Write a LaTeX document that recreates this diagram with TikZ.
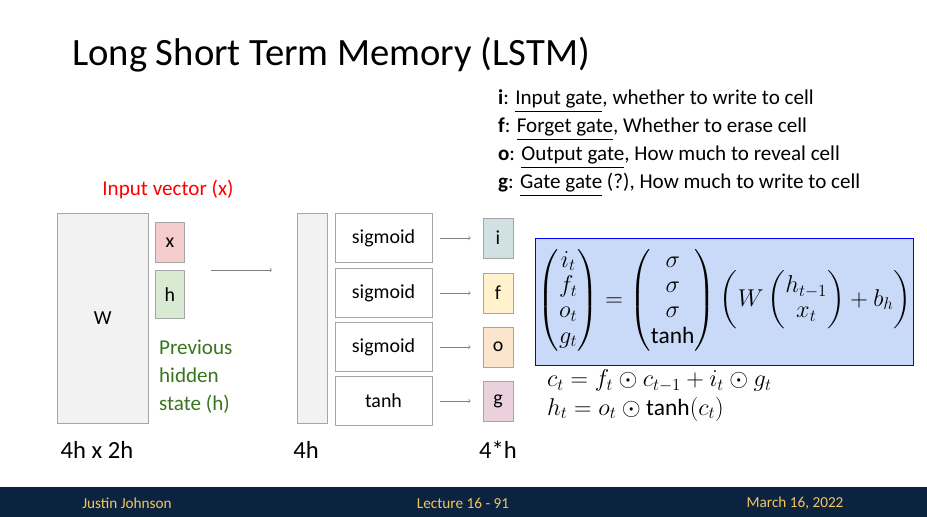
\documentclass[tikz,border=0pt]{standalone}
\usepackage{fontspec}
\usepackage{amsmath}
\setmainfont{Carlito}
\usetikzlibrary{positioning}

\definecolor{gatei}{HTML}{D0E0E3}
\definecolor{gatef}{HTML}{FFF2CC}
\definecolor{gateo}{HTML}{FCE5CD}
\definecolor{gateg}{HTML}{EAD1DC}
\definecolor{vecx}{HTML}{F4CCCC}
\definecolor{vech}{HTML}{D9EAD3}
\definecolor{eqbox}{HTML}{C9DAF8}
\definecolor{footbg}{HTML}{0C2340}
\definecolor{foottx}{HTML}{F2C75C}
\definecolor{prevgreen}{HTML}{38761D}

\tikzset{
  cell/.style={draw=gray!70, line width=0.6pt, inner sep=0pt, anchor=north west},
  act/.style={draw=gray!70, line width=0.6pt, minimum width=97*0.03cm, minimum height=49*0.03cm, font=\fontsize{17}{20}\selectfont},
  gate/.style={draw=gray!70, line width=0.6pt, minimum width=30*0.03cm, minimum height=40*0.03cm, font=\fontsize{17}{20}\selectfont},
  thin arrow/.style={->, gray, line width=0.5pt},
  body/.style={font=\fontsize{17}{20}\selectfont},
  desc/.style={font=\fontsize{18}{20}\selectfont},
  dim/.style={font=\fontsize{21}{24}\selectfont},
}

\begin{document}
\begin{tikzpicture}[x=0.03cm, y=-0.03cm]
\useasboundingbox (0,0) rectangle (927,517);
\fill[white] (0,0) rectangle (927,517);

% title
\node[anchor=west, font=\fontsize{33}{36}\selectfont] (title) at (68,55) {Long Short Term Memory (LSTM)};

% gate descriptions
\node[anchor=west, desc] (di) at (494,101) {\textbf{i}: \underline{Input gate}, whether to write to cell};
\node[anchor=west, desc] (df) at (494,129) {\textbf{f}: \underline{Forget gate}, Whether to erase cell};
\node[anchor=west, desc] (do) at (494,157) {\textbf{o}: \underline{Output gate}, How much to reveal cell};
\node[anchor=west, desc] (dg) at (494,185) {\textbf{g}: \underline{Gate gate} (?), How much to write to cell};

% weight matrix and inputs
\node[cell, fill=gray!10, minimum width=91*0.03cm, minimum height=210*0.03cm] (W) at (57,213) {};
\node[body] at (W.center) {W};
\node[cell, fill=vecx, minimum width=29*0.03cm, minimum height=40*0.03cm] (x) at (155,222) {};
\node[body] at (x.center) {x};
\node[cell, fill=vech, minimum width=29*0.03cm, minimum height=48*0.03cm] (h) at (155,270) {};
\node[body] at (h.center) {h};
\node[desc, text=red] (inlabel) at (168,189) {Input vector (x)};
\node[text=prevgreen, anchor=north west, align=left, font=\fontsize{18}{24}\selectfont] (prev) at (155,336) {Previous\\hidden\\state (h)};
\node[dim] (dimW) at (97,450) {4h x 2h};

\coordinate (a1) at (211,270);
\coordinate (a2) at (272,270);
\draw[thin arrow] (a1) -- (a2);

% activations
\node[cell, fill=gray!10, minimum width=30*0.03cm, minimum height=210*0.03cm] (A) at (297,213) {};
\node[dim] (dimA) at (306,450) {4h};

\node[act] (s1) at (383.5,238) {sigmoid};
\node[act] (s2) at (383.5,293) {sigmoid};
\node[act] (s3) at (383.5,347) {sigmoid};
\node[act] (s4) at (383.5,401) {tanh};

\node[gate, fill=gatei] (gi) at (498,238) {i};
\node[gate, fill=gatef] (gf) at (498,293) {f};
\node[gate, fill=gateo] (go) at (498,347) {o};
\node[gate, fill=gateg] (gg) at (498,401) {g};
\node[dim] (dimG) at (498,450) {4*h};

\foreach \s/\g in {s1/gi,s2/gf,s3/go,s4/gg}
  \draw[thin arrow] ([xshift=8*0.03cm]\s.east) -- ([xshift=-12*0.03cm]\g.west);

% equations
\node[draw=blue, line width=1pt, fill=eqbox, anchor=north west, minimum width=378*0.03cm, minimum height=127*0.03cm] (eqb) at (535,238) {};
\node[font=\fontsize{20}{24}\selectfont, inner sep=0pt] (eq) at ([yshift=2*0.03cm]eqb.center)
  {$\renewcommand{\arraystretch}{0.9}\begin{pmatrix} i_t\\ f_t\\ o_t\\ g_t\end{pmatrix}=\begin{pmatrix}\sigma\\ \sigma\\ \sigma\\ \tanh\end{pmatrix}\left(W\begin{pmatrix}h_{t-1}\\ x_t\end{pmatrix}+b_h\right)$};
\node[anchor=west, font=\fontsize{20}{22}\selectfont] (ct) at (543,381) {$c_t = f_t \odot c_{t-1} + i_t \odot g_t$};
\node[anchor=west, font=\fontsize{20}{22}\selectfont] (ht) at (543,409) {$h_t = o_t \odot \tanh(c_t)$};

% footer
\fill[footbg] (0,487) rectangle (927,517);
\node[text=foottx, font=\fontsize{13}{15}\selectfont] (f1) at (127,503) {Justin Johnson};
\node[text=foottx, font=\fontsize{13}{15}\selectfont] (f2) at (463,503) {Lecture 16 - 91};
\node[text=foottx, font=\fontsize{13}{15}\selectfont] (f3) at (795,503) {March 16, 2022};
\end{tikzpicture}
\end{document}
